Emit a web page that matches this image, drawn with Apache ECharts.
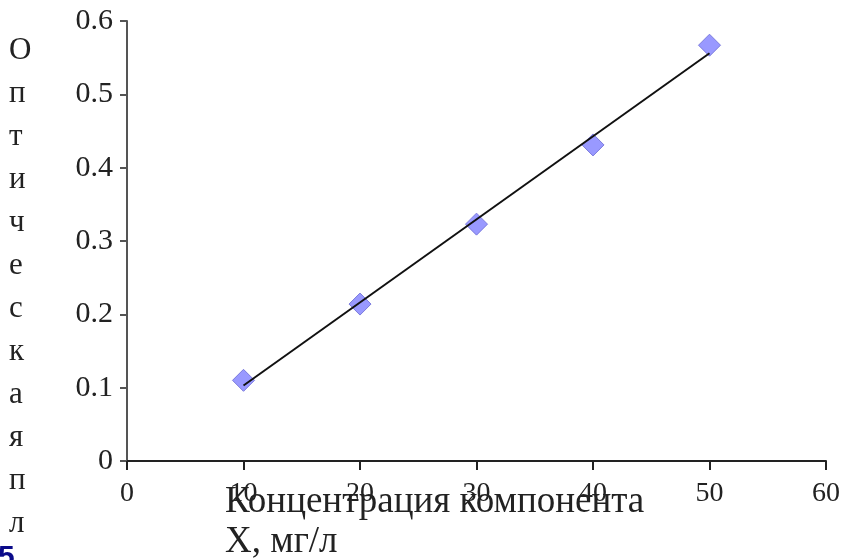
<!DOCTYPE html>
<html><head><meta charset="utf-8">
<script src="https://cdn.jsdelivr.net/npm/echarts@6/dist/echarts.min.js"></script>
<style>html,body{margin:0;padding:0;background:#fff}#c{width:843px;height:560px}</style>
</head><body><div id="c"></div>
<script>
var xValues = [10, 20, 30, 40, 50];
var yValues = [0.110, 0.214, 0.323, 0.431, 0.567];
var trendX = [10, 50];
var trendY = [0.103, 0.556];
var yTitleLetters = ['О','п','т','и','ч','е','с','к','а','я','п','л','о'];
var xTitleLines = ['Концентрация компонента', 'Х, мг/л'];
var FONT = 'Liberation Serif';

var chart = echarts.init(document.getElementById('c'), null, {renderer: 'canvas'});
chart.setOption({
  animation: false,
  backgroundColor: '#fff',
  grid: {left: 127, right: 17, top: 21, bottom: 99},
  xAxis: {
    type: 'value', min: 0, max: 60, interval: 10,
    splitLine: {show: false},
    axisLine: {lineStyle: {color: '#222', width: 2}},
    axisTick: {length: 9, lineStyle: {color: '#222', width: 2}},
    axisLabel: {fontFamily: FONT, fontSize: 28, color: '#222', margin: 19}
  },
  yAxis: {
    type: 'value', min: 0, max: 0.6, interval: 0.1,
    splitLine: {show: false},
    axisLine: {show: true, lineStyle: {color: '#555', width: 2}},
    axisTick: {show: true, length: 7, lineStyle: {color: '#555', width: 2}},
    axisLabel: {fontFamily: FONT, fontSize: 30, color: '#222', margin: 14,
      formatter: function (v) { return v === 0 ? '0' : v.toFixed(1); }}
  },
  series: [
    {
      type: 'line', data: trendX.map(function (x, i) { return [x, trendY[i]]; }),
      symbol: 'none', lineStyle: {color: '#111', width: 2}, z: 3
    },
    {
      type: 'scatter', data: xValues.map(function (x, i) { return [x, yValues[i]]; }),
      symbol: 'diamond', symbolSize: [22, 22],
      itemStyle: {color: '#9999ff', borderColor: '#7b7bdd', borderWidth: 1, opacity: 1}, z: 2
    }
  ],
  graphic: [
    {type: 'text', left: 9, top: 29, style: {text: yTitleLetters.join('\n'), font: '31px "Liberation Serif"', fill: '#222', lineHeight: 43, align: 'center'}},
    {type: 'text', left: 225, top: 482, style: {text: xTitleLines.join('\n'), font: '37px "Liberation Serif"', fill: '#222', lineHeight: 40}},
    {type: 'text', left: -2, top: 543, style: {text: '5', font: 'bold 30px "Liberation Sans"', fill: '#0b0b8a'}}
  ]
});
</script></body></html>
